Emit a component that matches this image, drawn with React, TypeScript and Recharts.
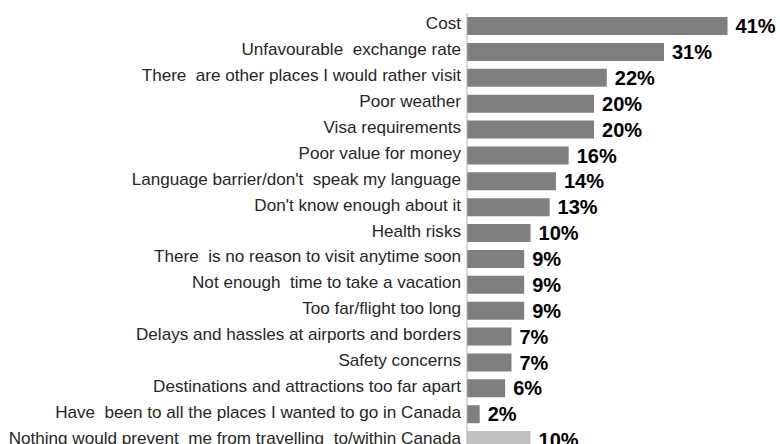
import { Bar, BarChart, Cell, LabelList, XAxis, YAxis } from "recharts";

const reasons = [
  "Cost",
  "Unfavourable  exchange rate",
  "There  are other places I would rather visit",
  "Poor weather",
  "Visa requirements",
  "Poor value for money",
  "Language barrier/don't  speak my language",
  "Don't know enough about it",
  "Health risks",
  "There  is no reason to visit anytime soon",
  "Not enough  time to take a vacation",
  "Too far/flight too long",
  "Delays and hassles at airports and borders",
  "Safety concerns",
  "Destinations and attractions too far apart",
  "Have  been to all the places I wanted to go in Canada",
  "Nothing would prevent  me from travelling  to/within Canada",
];

const shares = [41, 31, 22, 20, 20, 16, 14, 13, 10, 9, 9, 9, 7, 7, 6, 2, 10];

const data = reasons.map((label, i) => ({ label, value: shares[i] }));

const FONT = '"Liberation Sans", Arial, sans-serif';

interface TickProps {
  x?: number;
  y?: number;
  payload?: { value?: string };
}

function ReasonTick({ x = 0, y = 0, payload }: TickProps) {
  return (
    <g transform={`translate(${x}, ${y}) scale(1.07, 1)`}>
      <text
        dy={3.5}
        fill="#262626"
        fontSize={16}
        fontFamily={FONT}
        textAnchor="end"
        style={{ whiteSpace: "pre" }}
      >
        {payload?.value}
      </text>
    </g>
  );
}

export default function App() {
  // fixed frame so the chart can run past the bottom edge like the reference
  return (
    <div
      style={{
        position: "fixed",
        top: 0,
        left: 0,
        width: 780,
        height: 444,
        overflow: "hidden",
        background: "#fff",
      }}
    >
      <BarChart
        width={780}
        height={460}
        data={data}
        layout="vertical"
        margin={{ top: 13, right: 8, bottom: 7, left: 8 }}
        barSize={18}
      >
        <XAxis type="number" domain={[0, 48]} hide />
        <YAxis
          type="category"
          dataKey="label"
          width={459}
          axisLine={{ stroke: "#b3b3b3", strokeWidth: 1 }}
          tickLine={false}
          tickSize={6}
          tickMargin={0}
          interval={0}
          tick={<ReasonTick />}
        />
        <Bar dataKey="value" isAnimationActive={false}>
          {data.map((d, i) => (
            <Cell key={d.label} fill={i === data.length - 1 ? "#c0c0c0" : "#7f7f7f"} />
          ))}
          <LabelList
            dataKey="value"
            position="right"
            offset={8}
            formatter={(v: number) => `${v}%`}
            fill="#000"
            fontSize={20}
            fontWeight="bold"
            fontFamily={FONT}
          />
        </Bar>
      </BarChart>
    </div>
  );
}
